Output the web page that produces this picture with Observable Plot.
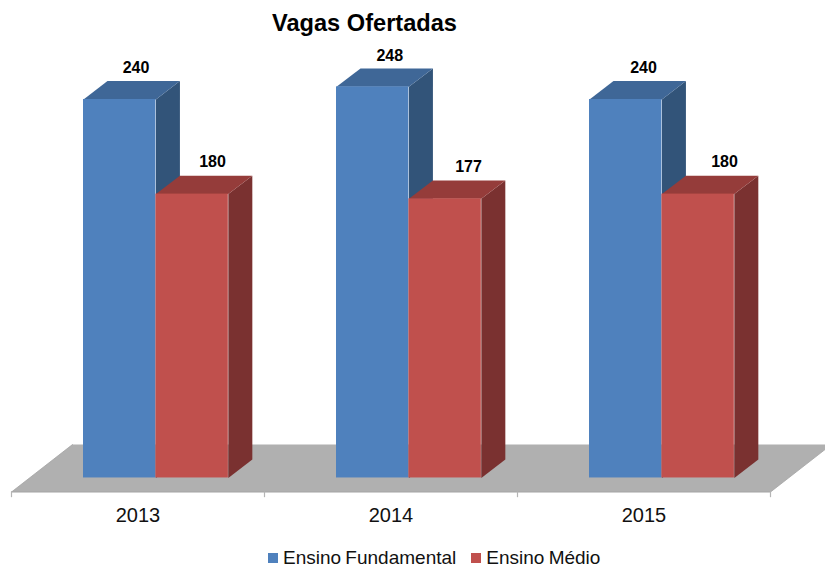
<!DOCTYPE html>
<html><head><meta charset="utf-8">
<script src="https://cdn.jsdelivr.net/npm/d3@7"></script>
<script src="https://cdn.jsdelivr.net/npm/@observablehq/plot@0.6"></script>
<style>
html,body{margin:0;padding:0;background:#fff;overflow:hidden;width:825px;height:571px}
body{font-family:"Liberation Sans",Arial,sans-serif;color:#000}
#title{height:40px;box-sizing:border-box;padding-top:9px;font-size:23.6px;font-weight:bold;line-height:28px;width:729px;text-align:center}
#legend{display:flex;align-items:center;height:41px;padding-left:268px;font-size:19px;color:#111;box-sizing:border-box;padding-top:15px}
#legend i{display:inline-block;width:10px;height:10px;margin-right:5px}
#legend span{margin-right:15px;word-spacing:-1px}
svg{display:block}
</style></head><body>
<div id="title">Vagas Ofertadas</div>
<div id="chart"></div>
<div id="legend"></div>
<script>
const years = ["2013", "2014", "2015"];
const fundamental = [240, 248, 240];
const medio = [180, 177, 180];
const seriesNames = ["Ensino Fundamental", "Ensino Médio"];
const frontColors = ["#4f81bd", "#c0504d"];
const topColors = ["#3f6797", "#953c3a"];
const sideColors = ["#325479", "#7a3130"];

const barStart = 0.2846, barW = 0.2862;
const depthX = 0.0949, depthY = 11.7;
const floorFront = -8.9, floorDepthX = 0.241, floorBack = 21.2;

const bars = [];
years.forEach((yr, i) => {
  [fundamental[i], medio[i]].forEach((v, s) => {
    const x1 = i + barStart + s * barW;
    bars.push({yr, i, s, v, x1, x2: x1 + barW, name: seriesNames[s]});
  });
});

const faces = [];
bars.forEach((b, k) => {
  [[b.x2, 0], [b.x2 + depthX, depthY], [b.x2 + depthX, b.v + depthY], [b.x2, b.v]]
    .forEach(([x, y]) => faces.push({id: "side" + k, x, y, fill: sideColors[b.s]}));
  [[b.x1, b.v], [b.x2, b.v], [b.x2 + depthX, b.v + depthY], [b.x1 + depthX, b.v + depthY]]
    .forEach(([x, y]) => faces.push({id: "top" + k, x, y, fill: topColors[b.s]}));
});

const floor = [
  {x: 0, y: floorFront},
  {x: years.length, y: floorFront},
  {x: years.length + floorDepthX, y: floorBack},
  {x: floorDepthX, y: floorBack}
];

const plot = Plot.plot({
  width: 825, height: 490,
  marginLeft: 11, marginRight: 55, marginTop: 0, marginBottom: 38.5,
  x: {domain: [0, 3], axis: null},
  y: {domain: [floorFront, 277.4], axis: null},
  color: {type: "identity"},
  clip: false,
  marks: [
    Plot.line(floor, {x: "x", y: "y", curve: "linear-closed", fill: "#b0b0b0", stroke: "none"}),
    Plot.ruleY([floorFront], {x1: 0, x2: 3, stroke: "#a3a3a3", strokeWidth: 1.2}),
    Plot.line(floor.slice(0, 1).concat(floor.slice(3)), {x: "x", y: "y", stroke: "#a3a3a3", strokeWidth: 0.8}),
    Plot.line(floor.slice(1, 3), {x: "x", y: "y", stroke: "#a3a3a3", strokeWidth: 0.8}),
    Plot.ruleX(d3.range(years.length + 1), {y1: floorFront, y2: floorFront - 3.6, stroke: "#b5b5b5", strokeWidth: 1.2}),
    Plot.text(years, {x: (d, i) => i + 0.5, y: floorFront, dy: 24, text: d => d, fontSize: 20, fill: "#111"}),
    Plot.line(faces, {x: "x", y: "y", z: "id", fill: "fill", stroke: "none", curve: "linear-closed"}),
    Plot.rect(bars, {x1: "x1", x2: "x2", y1: 0, y2: "v", fill: d => frontColors[d.s]}),
    Plot.text(bars, {x: d => d.x1 + barW / 2 + depthX * 0.68 + (d.s ? 0.016 + 0.012 * d.i : 0.003 * d.i), y: d => d.v + depthY + (d.s ? 0.6 : 0), dy: -13, text: d => String(d.v), fontSize: 16, fontWeight: "bold", fill: "#000"})
  ]
});
plot.style.fontFamily = '"Liberation Sans", Arial, sans-serif';
document.getElementById("chart").append(plot);

const legend = document.getElementById("legend");
seriesNames.forEach((n, i) => {
  const sw = document.createElement("i");
  sw.style.background = frontColors[i];
  const t = document.createElement("span");
  t.textContent = n;
  legend.append(sw, t);
});
</script>
</body></html>
